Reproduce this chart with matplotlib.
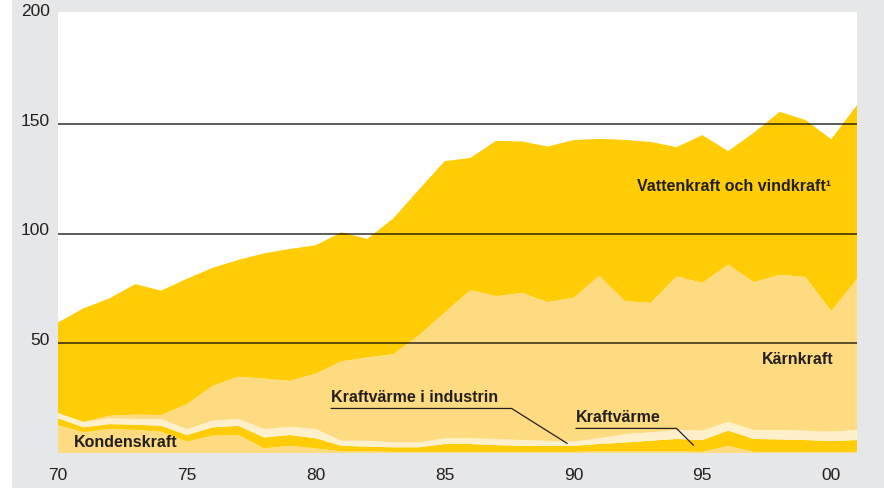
import matplotlib
matplotlib.use("Agg")
import matplotlib.pyplot as plt
import matplotlib.transforms as mtransforms
from matplotlib.patches import Rectangle

years = list(range(1970, 2002))

# Values (TWh), per production type
kondenskraft = [12.7, 9.4, 10.9, 10.5, 9.7, 5.2, 7.9, 8.2, 2.1, 3.3, 2.1, 0.8, 0.8, 0.5, 0.5, 0.5,
                0.5, 0.5, 0.5, 0.5, 0.5, 0.8, 0.8, 0.8, 0.8, 0.5, 3.3, 0.5, 0.5, 0.5, 0.5, 0.5]
kraftvarme = [3.1, 2.3, 2.3, 2.4, 2.7, 3.0, 3.8, 4.2, 5.0, 4.9, 4.6, 2.5, 2.1, 2.1, 2.1, 3.6,
              3.6, 3.1, 2.8, 2.8, 2.8, 3.3, 4.0, 4.8, 5.6, 5.4, 6.9, 5.9, 5.7, 5.4, 5.0, 5.4]
kraftvarme_industri = [2.4, 2.5, 2.6, 2.6, 3.1, 2.7, 3.0, 3.1, 3.8, 3.8, 4.2, 2.3, 2.7, 2.2, 2.2, 2.6,
                       2.6, 2.8, 2.6, 2.2, 1.9, 2.6, 3.8, 3.8, 4.1, 4.3, 4.0, 4.1, 4.3, 4.3, 4.2, 4.6]
karnkraft = [0.0, 0.0, 1.2, 2.0, 1.8, 11.4, 15.9, 19.3, 23.0, 20.9, 25.3, 36.2, 38.0, 40.2, 48.8, 57.3,
             67.5, 65.1, 67.1, 63.3, 65.6, 74.1, 60.6, 59.1, 70.0, 67.4, 71.7, 67.4, 70.7, 70.1, 55.0, 68.9]
vattenkraft = [41.3, 51.8, 53.5, 59.5, 56.7, 57.1, 53.8, 53.2, 57.1, 60.1, 58.5, 58.8, 54.0, 61.8, 66.4, 69.0,
               60.3, 70.8, 69.0, 70.9, 71.8, 62.4, 73.5, 73.3, 58.9, 67.3, 51.7, 68.1, 74.3, 71.5, 78.3, 79.2]

ytick_vals = [50, 100, 150, 200]
ytick_labels = ["50", "100", "150", "200"]
xtick_vals = [1970, 1975, 1980, 1985, 1990, 1995, 2000]
xtick_labels = ["70", "75", "80", "85", "90", "95", "00"]

grey = "#e6e7e8"
dark_yel = "#ffcc05"
light_yel = "#fedb80"
pale_yel = "#fff0cc"
txt = "#231f20"

fig = plt.figure(figsize=(8.84, 4.88), dpi=100)
fig.patch.set_facecolor(grey)
fig.patches.append(Rectangle((0, 0), 12 / 884, 1, transform=fig.transFigure,
                             facecolor="white", edgecolor="none", zorder=0))

ax = fig.add_axes([58 / 884, 1 - 453 / 488, (857 - 58) / 884, (453 - 12) / 488])
ax.set_facecolor("white")

ax.stackplot(years, kondenskraft, kraftvarme, kraftvarme_industri, karnkraft, vattenkraft,
             colors=[light_yel, dark_yel, pale_yel, light_yel, dark_yel],
             linewidth=0, edgecolor="none", antialiased=True, zorder=1)

for v in ytick_vals[:-1]:
    ax.axhline(v, color="black", lw=1.2, alpha=0.75, zorder=3)

ax.set_xlim(1970, 2001)
ax.set_ylim(0, 201)
for s in ax.spines.values():
    s.set_visible(False)
ax.set_xticks(xtick_vals)
ax.set_xticklabels(xtick_labels)
ax.set_yticks(ytick_vals)
ax.set_yticklabels(ytick_labels)
ax.tick_params(length=0, labelsize=12.5, labelcolor=txt)
ax.tick_params(axis="x", pad=11)
ax.tick_params(axis="y", pad=6)
for lab in ax.get_xticklabels() + ax.get_yticklabels():
    lab.set_family(["Liberation Sans", "DejaVu Sans"])
up = mtransforms.ScaledTranslation(0, 3 / 72, fig.dpi_scale_trans)
for lab in ax.get_yticklabels():
    lab.set_transform(lab.get_transform() + up)

lab_font = dict(family=["Liberation Sans Narrow", "Liberation Sans", "DejaVu Sans"],
                weight="bold", color=txt, fontsize=11.5, zorder=5)

ax.text(2000, 121.5, "Vattenkraft och vindkraft\u00b9", ha="right", va="center", **lab_font)
ax.text(2000.1, 42.5, "Kärnkraft", ha="right", va="center", **lab_font)
ax.text(1970.6, 5.0, "Kondenskraft", ha="left", va="center", **lab_font)
ax.text(1980.6, 25.5, "Kraftvärme i industrin", ha="left", va="center", **lab_font)
ax.text(1990.1, 16.3, "Kraftvärme", ha="left", va="center", **lab_font)

ax.plot([1980.6, 1987.6, 1989.75], [20.3, 20.3, 4.4], color=txt, lw=0.9, zorder=5)
ax.plot([1990.1, 1994.0, 1994.65], [11.2, 11.2, 3.6], color=txt, lw=0.9, zorder=5)

fig.savefig("out.png", dpi=100, facecolor=fig.get_facecolor())
